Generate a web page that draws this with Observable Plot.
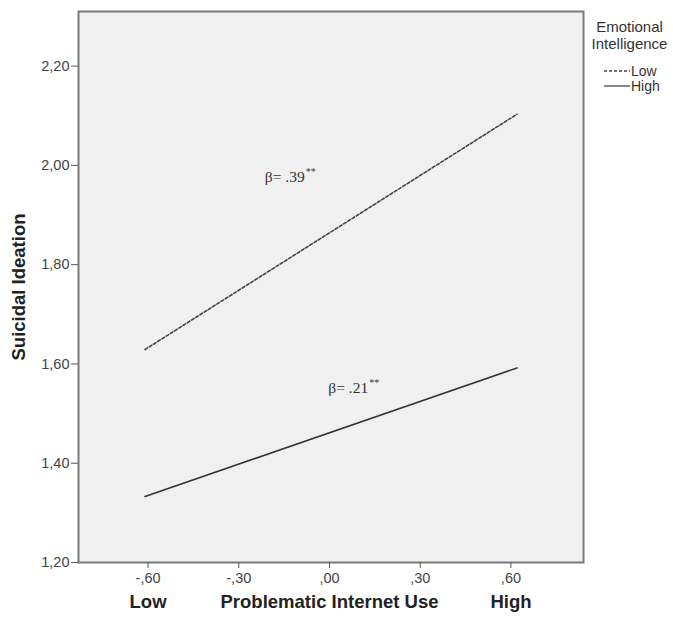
<!DOCTYPE html>
<html>
<head>
<meta charset="utf-8">
<script src="https://cdn.jsdelivr.net/npm/d3@7"></script>
<script src="https://cdn.jsdelivr.net/npm/@observablehq/plot@0.6"></script>
<style>
  html, body { margin: 0; padding: 0; background: #fff; }
  #wrap { position: relative; width: 673px; height: 620px; font-family: "Liberation Sans", Arial, sans-serif; }
  #legend { position: absolute; left: 586px; top: 18px; width: 87px; color: #333; font-size: 15px; }
  #legend .title { text-align: center; line-height: 17px; }
  #legend .row { display: flex; align-items: center; height: 15px; font-size: 14px; margin-left: 18px; }
  #legend svg { margin-right: 1px; }
</style>
</head>
<body>
<div id="wrap"></div>
<script>
// Data
const groups = ["Low", "High"];
const xValues = [-0.61, 0.62];
const lowValues = [1.629, 2.103];
const highValues = [1.333, 1.592];
const xTicks = [-0.6, -0.3, 0, 0.3, 0.6];
const yTicks = [1.2, 1.4, 1.6, 1.8, 2.0, 2.2];
const betaLabels = ["β= .39", "β= .21"];
const betaX = [-0.082, 0.128];
const betaY = [1.976, 1.552];
const xAxisWords = ["Low", "Problematic Internet Use", "High"];
const xAxisWordPos = [-0.6, 0, 0.6];

const lineData = [];
groups.forEach((g, gi) => {
  const vals = gi === 0 ? lowValues : highValues;
  xValues.forEach((x, i) => lineData.push({group: g, x, y: vals[i]}));
});
const betas = betaLabels.map((t, i) => ({t, x: betaX[i], y: betaY[i]}));
const words = xAxisWords.map((t, i) => ({t, x: xAxisWordPos[i]}));

const fmtX = v => d3.format(".2f")(v).replace("−", "-").replace("0.", ".").replace(".", ",");
const fmtY = v => d3.format(".2f")(v).replace(".", ",");

const chart = Plot.plot({
  width: 673,
  height: 620,
  marginLeft: 78,
  marginRight: 90,
  marginTop: 11,
  marginBottom: 58,
  style: {fontFamily: "Liberation Sans, Arial, sans-serif", background: "#fff", color: "#333"},
  x: {domain: [-0.83, 0.84]},
  y: {domain: [1.2, 2.31]},
  marks: [
    Plot.frame({fill: "#f0f0f0"}),
    Plot.line(lineData.filter(d => d.group === "Low"), {x: "x", y: "y", stroke: "#444", strokeWidth: 1.6, strokeDasharray: "3,2"}),
    Plot.line(lineData.filter(d => d.group === "High"), {x: "x", y: "y", stroke: "#333", strokeWidth: 1.6}),
    Plot.frame({stroke: "#7a7a7a", strokeWidth: 2}),
    Plot.axisX({ticks: xTicks, tickFormat: fmtX, tickSize: 6, stroke: "#555", fontSize: 14.5, tickPadding: 4, label: null, fill: "#444"}),
    Plot.axisY({ticks: yTicks, tickFormat: fmtY, tickSize: 7, stroke: "#555", fontSize: 14.5, tickPadding: 2, label: null, fill: "#444"}),
    Plot.text(betas, {x: "x", y: "y", text: "t", textAnchor: "end", fontFamily: "Liberation Serif, Times New Roman, serif", fontSize: 15.5, fill: "#333"}),
    Plot.text(betas, {x: "x", y: "y", text: () => "**", textAnchor: "start", dx: 1, dy: -5, fontFamily: "Liberation Serif, Times New Roman, serif", fontSize: 10, fill: "#333"}),
    Plot.text(words, {x: "x", text: "t", frameAnchor: "bottom", dy: 45, fontSize: 18.5, fontWeight: "bold", fill: "#222"}),
    Plot.text(["Suicidal Ideation"], {frameAnchor: "left", textAnchor: "middle", text: d => d, rotate: -90, dx: -59, fontSize: 18.5, fontWeight: "bold", fill: "#222"})
  ]
});

const wrap = document.getElementById("wrap");
wrap.appendChild(chart);

const legend = document.createElement("div");
legend.id = "legend";
legend.innerHTML = `<div class="title">Emotional<br>Intelligence</div>
<div style="height:11px"></div>` +
  groups.map((g, i) => `<div class="row"><svg width="26" height="6"><line x1="0" x2="26" y1="3" y2="3" stroke="#444" stroke-width="1.3" ${i === 0 ? 'stroke-dasharray="3,2"' : ''}/></svg>${g}</div>`).join("");
wrap.appendChild(legend);
</script>
</body>
</html>
